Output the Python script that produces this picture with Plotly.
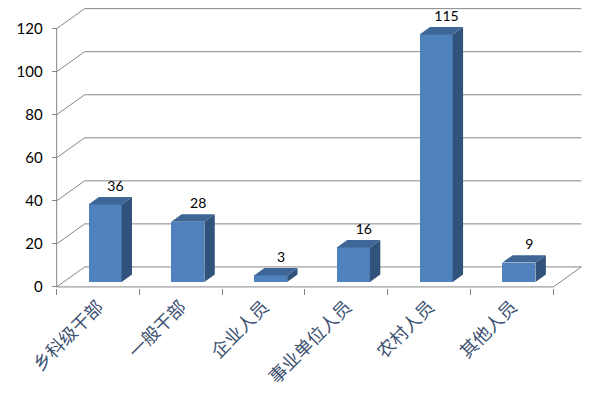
import plotly.graph_objects as go

categories = ["乡科级干部", "一般干部", "企业人员", "事业单位人员", "农村人员", "其他人员"]
values = [36, 28, 3, 16, 115, 9]
y_ticks = [0, 20, 40, 60, 80, 100, 120]

n = len(categories)
PAGE_OFF = 8            # default body margin of the html page
pxx = 82.7              # px per category
top_pad = 0.3
pxy = (287 - PAGE_OFF - 20) / (y_ticks[-1] + top_pad)   # px per value unit

# oblique projection (data units)
DX = 28 / pxx
DY = 20 / pxy
W = 0.4
F0, F1 = 0.25, 0.62
LABEL_GAP = 9.5 / pxy   # label centre above the bar's top-back edge

grid_c = "#868686"
front_c = "#4f81bd"
side_c = "#31527b"
top_c = "#3e6697"

xr = [-0.02, n + DX + 0.02]
yr = [-0.5, y_ticks[-1] + DY + top_pad]
l = 57 - PAGE_OFF + xr[0] * pxx
plot_w = (xr[1] - xr[0]) * pxx
r = 600 - l - plot_w
t = max(0.0, 287 - PAGE_OFF - yr[1] * pxy)
plot_h = (yr[1] - yr[0]) * pxy
b = 400 - t - plot_h

fig = go.Figure()

# walls / gridlines
gx, gy = [], []
for v in y_ticks:
    gx += [0, DX, n + DX, None]
    gy += [v, v + DY, v + DY, None]
gx += [0, n, n + DX, None, 0, 0]
gy += [0, 0, DY, None, 0, y_ticks[-1]]
fig.add_trace(go.Scatter(x=gx, y=gy, mode="lines", line=dict(color=grid_c, width=1),
                         hoverinfo="skip", showlegend=False))

# bars
cx = [i + 0.5 + F0 * DX for i in range(n)]
base = F0 * DY
d = F1 - F0
fig.add_trace(go.Bar(x=cx, y=values, base=base, width=W, marker=dict(color=front_c, line=dict(width=0)),
                     xaxis="x2", yaxis="y2", showlegend=False, hoverinfo="skip"))
sx, sy, tx, ty = [], [], [], []
for c, v in zip(cx, values):
    xl, xrr = c - W / 2, c + W / 2
    sx += [xrr, xrr, xrr + d * DX, xrr + d * DX, xrr, None]
    sy += [base, base + v, base + v + d * DY, base + d * DY, base, None]
    tx += [xl, xrr, xrr + d * DX, xl + d * DX, xl, None]
    ty += [base + v, base + v, base + v + d * DY, base + v + d * DY, base + v, None]
fig.add_trace(go.Scatter(x=sx, y=sy, fill="toself", fillcolor=side_c, mode="lines", line=dict(width=0, color=side_c),
                         xaxis="x2", yaxis="y2", showlegend=False, hoverinfo="skip"))
fig.add_trace(go.Scatter(x=tx, y=ty, fill="toself", fillcolor=top_c, mode="lines", line=dict(width=0, color=top_c),
                         xaxis="x2", yaxis="y2", showlegend=False, hoverinfo="skip"))
# value labels
fig.add_trace(go.Scatter(x=[c + d * DX for c in cx], y=[base + v + d * DY + LABEL_GAP for v in values],
                         mode="text", text=[str(v) for v in values], textposition="middle center",
                         textfont=dict(family="Lato, sans-serif", size=14, color="#000000"),
                         cliponaxis=False, xaxis="x2", yaxis="y2", showlegend=False, hoverinfo="skip"))

fig.update_layout(
    width=600, height=400,
    margin=dict(l=l, r=r, t=t, b=b, pad=0, autoexpand=False),
    paper_bgcolor="white", plot_bgcolor="white",
    xaxis=dict(range=xr, showgrid=False, zeroline=False, showline=False, automargin=False,
               tickmode="array", tickvals=[i + 0.5 for i in range(n)], ticktext=categories,
               tickangle=-45, ticks="", ticklabelstandoff=4,
               tickfont=dict(family="Noto Sans CJK SC", size=18, color="#3d5272"),
               minor=dict(tickmode="linear", tick0=0, dtick=1, ticks="outside", ticklen=6,
                          tickcolor=grid_c, tickwidth=1, showgrid=False)),
    yaxis=dict(range=yr, showgrid=False, zeroline=False, showline=False, automargin=False,
               anchor="free", position=(0 - xr[0]) / (xr[1] - xr[0]),
               tickmode="array", tickvals=y_ticks, ticks="outside", ticklen=5, tickcolor=grid_c,
               ticklabelstandoff=6,
               tickfont=dict(family="Lato, sans-serif", size=15, color="#000000")),
    xaxis2=dict(range=xr, overlaying="x", visible=False),
    yaxis2=dict(range=yr, overlaying="y", visible=False),
    bargap=0,
)

fig.write_html("out.html")
